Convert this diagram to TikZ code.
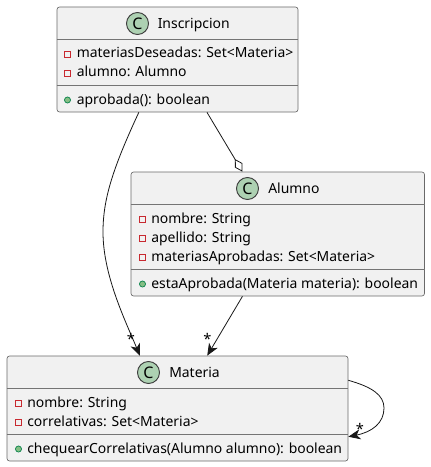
\documentclass[tikz,border=0pt]{standalone}
\usepackage{fontspec}
\setmainfont{Noto Sans}
\usepackage{xcolor}
\usetikzlibrary{positioning, calc, arrows.meta}
\definecolor{boxfill}{HTML}{F1F1F1}
\definecolor{boxline}{HTML}{181818}
\definecolor{iconfill}{HTML}{ADD1B2}
\definecolor{privred}{HTML}{C82930}
\definecolor{pubgreen}{HTML}{84BE84}
\definecolor{publine}{HTML}{038048}

\begin{document}
\begin{tikzpicture}[
    x=0.75pt, y=-0.75pt,
    classbox/.style={rectangle, draw=boxline!65, line width=0.5pt, fill=boxfill, rounded corners=1.9pt, inner sep=0pt},
    divider/.style={draw=boxline!60, line width=0.5pt},
    icon/.style={circle, draw=boxline!85, line width=0.7pt, fill=iconfill, minimum size=16.5pt, inner sep=0pt, font=\fontsize{12}{12}\selectfont\bfseries},
    title/.style={anchor=base west, inner sep=0pt, font=\fontsize{10.45}{12}\selectfont},
    member/.style={anchor=base west, inner sep=0pt, font=\fontsize{10.45}{12}\selectfont},
    privmark/.style={rectangle, draw=privred, line width=0.6pt, minimum size=4.6pt, inner sep=0pt},
    pubmark/.style={circle, draw=publine, line width=0.5pt, fill=pubgreen, minimum size=4.6pt, inner sep=0pt},
    link/.style={draw=boxline, line width=0.6pt},
    tip/.style={-{Stealth[length=9pt, width=7.5pt, inset=2.6pt]}},
    mult/.style={inner sep=0pt, font=\fontsize{11}{12}\selectfont},
    ]

    \useasboundingbox (0,0) rectangle (430,467);

    % clases
    \node[classbox, minimum width=180.75pt, minimum height=78.75pt] (insc) at (177.5,59.5) {};
    \node[classbox, minimum width=220.1pt, minimum height=93pt] (alum) at (277.75,234) {};
    \node[classbox, minimum width=255.75pt, minimum height=78.75pt] (mate) at (177.5,408.5) {};

    \draw[divider] (insc.west |- 0,39) -- (insc.east |- 0,39);
    \draw[divider] (insc.west |- 0,85) -- (insc.east |- 0,85);
    \draw[divider] (alum.west |- 0,204.5) -- (alum.east |- 0,204.5);
    \draw[divider] (alum.west |- 0,269) -- (alum.east |- 0,269);
    \draw[divider] (mate.west |- 0,388.5) -- (mate.east |- 0,388.5);
    \draw[divider] (mate.west |- 0,434) -- (mate.east |- 0,434);

    % Inscripcion
    \node[icon] (inscIcon) at (137.5,23.5) {C};
    \node[title] (inscName) at (157.5,28.5) {Inscripcion};
    \node[privmark] (inscM1) at (67.5,54) {};
    \node[member] (inscF1) at (76.5,58) {materiasDeseadas: Set<Materia>};
    \node[privmark] (inscM2) at (67.5,73) {};
    \node[member] (inscF2) at (76.5,77) {alumno: Alumno};
    \node[pubmark] (inscM3) at (67.5,100) {};
    \node[member] (inscF3) at (76.5,104) {aprobada(): boolean};

    % Alumno
    \node[icon] (alumIcon) at (247.5,188.5) {C};
    \node[title] (alumName) at (268,193.5) {Alumno};
    \node[privmark] (alumM1) at (142.5,219) {};
    \node[member] (alumF1) at (151,223) {nombre: String};
    \node[privmark] (alumM2) at (142.5,238) {};
    \node[member] (alumF2) at (151,242) {apellido: String};
    \node[privmark] (alumM3) at (142.5,257) {};
    \node[member] (alumF3) at (151,261) {materiasAprobadas: Set<Materia>};
    \node[pubmark] (alumM4) at (142.5,284) {};
    \node[member] (alumF4) at (151,288) {estaAprobada(Materia materia): boolean};

    % Materia
    \node[icon] (mateIcon) at (148.5,372.5) {C};
    \node[title] (mateName) at (169,377.5) {Materia};
    \node[privmark] (mateM1) at (18.5,403) {};
    \node[member] (mateF1) at (27,407) {nombre: String};
    \node[privmark] (mateM2) at (18.5,422) {};
    \node[member] (mateF2) at (27,426) {correlativas: Set<Materia>};
    \node[pubmark] (mateM3) at (18.5,449) {};
    \node[member] (mateF3) at (27,453) {chequearCorrelativas(Alumno alumno): boolean};

    % relaciones
    \draw[link, tip] ($(insc.south west)!0.34!(insc.south east)$) .. controls (112,170) and (103,200) .. (103,232)
        .. controls (103,275) and (125,320) .. ($(mate.north west)!0.39!(mate.north east)$);
    \draw[link, -{Diamond[open, length=11pt, width=6.5pt]}] ($(insc.south west)!0.622!(insc.south east)$) -- ($(alum.north west)!0.38!(alum.north east)$);
    \draw[link, tip] ($(alum.south west)!0.38!(alum.south east)$) -- ($(mate.north west)!0.587!(mate.north east)$);
    \draw[link, tip] ($(mate.north east)!0.233!(mate.south east)$) .. controls (372,387) and (384,395) .. (384,408)
        .. controls (384,423) and (372,432) .. ($(mate.north east)!0.767!(mate.south east)$);

    \node[mult] (multA) at (131,339) {*};
    \node[mult] (multB) at (207.5,339) {*};
    \node[mult] (multC) at (360,429) {*};
\end{tikzpicture}
\end{document}
